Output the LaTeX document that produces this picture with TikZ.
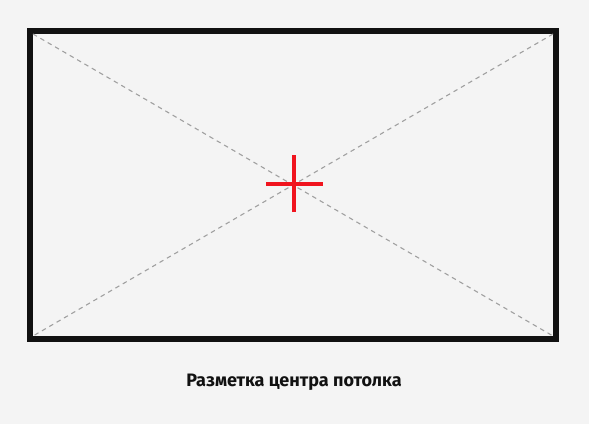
\documentclass[tikz,border=0pt]{standalone}
\usepackage{fontspec}
\setmainfont{Fira Sans}
\definecolor{bg}{HTML}{F4F4F4}
\definecolor{frame}{HTML}{111111}
\definecolor{guide}{HTML}{A0A0A0}
\definecolor{mark}{HTML}{F0141E}
\begin{document}
\begin{tikzpicture}[x=1pt,y=-1pt,
				ceiling/.style={draw=frame,line width=6pt},
				diag/.style={draw=guide,line width=1.1pt,dash pattern=on 4.5pt off 4pt},
				cross/.style={draw=mark,line width=4.5pt},
				caption/.style={font=\bfseries\fontsize{18}{20}\selectfont,text=frame}]
\fill[bg] (0,0) rectangle (589,424);
\useasboundingbox (0,0) rectangle (589,424);
% ceiling outline
\draw[ceiling] (30,31) rectangle (556,339);
\coordinate (tl) at (33,34);
\coordinate (tr) at (553,34);
\coordinate (bl) at (33,336);
\coordinate (br) at (553,336);
\draw[diag] (tl) -- (br);
\draw[diag] (tr) -- (bl);
% centre mark
\coordinate (c) at (294,184);
\draw[cross] ([xshift=-28pt]c) -- ([xshift=29pt]c);
\draw[cross] ([yshift=-28pt]c) -- ([yshift=29pt]c);
\node[caption] (label) at (294,382) {Разметка центра потолка};
\end{tikzpicture}
\end{document}
